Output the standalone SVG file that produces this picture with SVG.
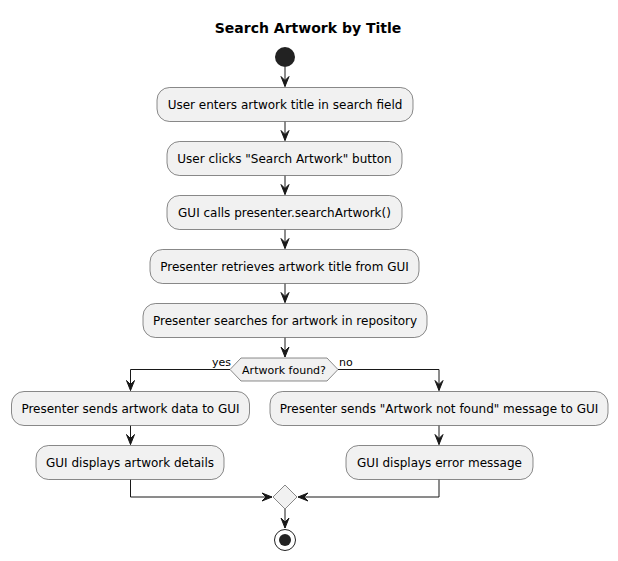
<svg xmlns="http://www.w3.org/2000/svg" width="618" height="561" viewBox="0 0 618 561">
<defs>
<style>
.box{fill:#F1F1F1;stroke:#181818;stroke-width:0.5}
.t{font-family:"DejaVu Sans",sans-serif;font-size:12px;fill:#000000;text-anchor:middle}
.s{font-family:"DejaVu Sans",sans-serif;font-size:11px;fill:#000000}
.ln{fill:none;stroke:#181818;stroke-width:1}
</style>
<marker id="ah" viewBox="0 0 10 8" refX="10" refY="4" markerWidth="10" markerHeight="8" markerUnits="userSpaceOnUse" orient="auto" overflow="visible">
<path d="M0,0 L10,4 L0,8 L4,4 Z" fill="#181818" stroke="#181818" stroke-width="1" stroke-linejoin="miter"/>
</marker>
</defs>
<rect width="618" height="561" fill="#FFFFFF"/>
<text x="308" y="33" style="font-family:'DejaVu Sans',sans-serif;font-size:14px;font-weight:bold;text-anchor:middle" fill="#000000">Search Artwork by Title</text>

<g id="connectors">
<path class="ln" d="M285,67 V86.5" marker-end="url(#ah)"/>
<path class="ln" d="M285,121.5 V140.5" marker-end="url(#ah)"/>
<path class="ln" d="M285,175.5 V194.5" marker-end="url(#ah)"/>
<path class="ln" d="M285,229.5 V248.5" marker-end="url(#ah)"/>
<path class="ln" d="M285,283.5 V302.5" marker-end="url(#ah)"/>
<path class="ln" d="M285,337.5 V357" marker-end="url(#ah)"/>
<path class="ln" d="M230,369.5 H130.5 V390.5" marker-end="url(#ah)"/>
<path class="ln" d="M338,369.5 H439 V390.5" marker-end="url(#ah)"/>
<path class="ln" d="M130.5,425.5 V444.5" marker-end="url(#ah)"/>
<path class="ln" d="M439,425.5 V444.5" marker-end="url(#ah)"/>
<path class="ln" d="M130.5,479.5 V497 H272" marker-end="url(#ah)"/>
<path class="ln" d="M439,479.5 V497 H298" marker-end="url(#ah)"/>
<path class="ln" d="M285,509 V528" marker-end="url(#ah)"/>
<text class="s" x="212" y="366">yes</text>
<text class="s" x="339" y="366">no</text>
</g>

<g id="start"><circle cx="285" cy="57" r="10" fill="#222222"/></g>

<g id="n1"><rect class="box" x="157" y="87.5" width="256" height="34" rx="12.5"/><text class="t" x="285" y="108.5">User enters artwork title in search field</text></g>
<g id="n2"><rect class="box" x="167" y="141.5" width="235" height="34" rx="12.5"/><text class="t" x="284.5" y="162.5">User clicks "Search Artwork" button</text></g>
<g id="n3"><rect class="box" x="167" y="195.5" width="235" height="34" rx="12.5"/><text class="t" x="284.5" y="216.5">GUI calls presenter.searchArtwork()</text></g>
<g id="n4"><rect class="box" x="150" y="249.5" width="269" height="34" rx="12.5"/><text class="t" x="284.5" y="270.5">Presenter retrieves artwork title from GUI</text></g>
<g id="n5"><rect class="box" x="143" y="303.5" width="284" height="34" rx="12.5"/><text class="t" x="285" y="324.5">Presenter searches for artwork in repository</text></g>

<g id="decision"><polygon class="box" points="230,369.5 241,358 327,358 338,369.5 327,381 241,381"/><text class="s" x="284" y="373.5" text-anchor="middle">Artwork found?</text></g>

<g id="n6"><rect class="box" x="11.5" y="391.5" width="238" height="34" rx="12.5"/><text class="t" x="130.5" y="412.5">Presenter sends artwork data to GUI</text></g>
<g id="n7"><rect class="box" x="36" y="445.5" width="188" height="34" rx="12.5"/><text class="t" x="130" y="466.5">GUI displays artwork details</text></g>
<g id="n8"><rect class="box" x="270" y="391.5" width="338" height="34" rx="12.5"/><text class="t" x="439" y="412.5">Presenter sends "Artwork not found" message to GUI</text></g>
<g id="n9"><rect class="box" x="346" y="445.5" width="187" height="34" rx="12.5"/><text class="t" x="439.5" y="466.5">GUI displays error message</text></g>

<g id="merge"><polygon class="box" points="285,485 297,497 285,509 273,497"/></g>

<g id="end"><circle cx="285" cy="540" r="10.5" fill="none" stroke="#222222" stroke-width="1"/><circle cx="285" cy="540" r="6" fill="#222222"/></g>
</svg>
